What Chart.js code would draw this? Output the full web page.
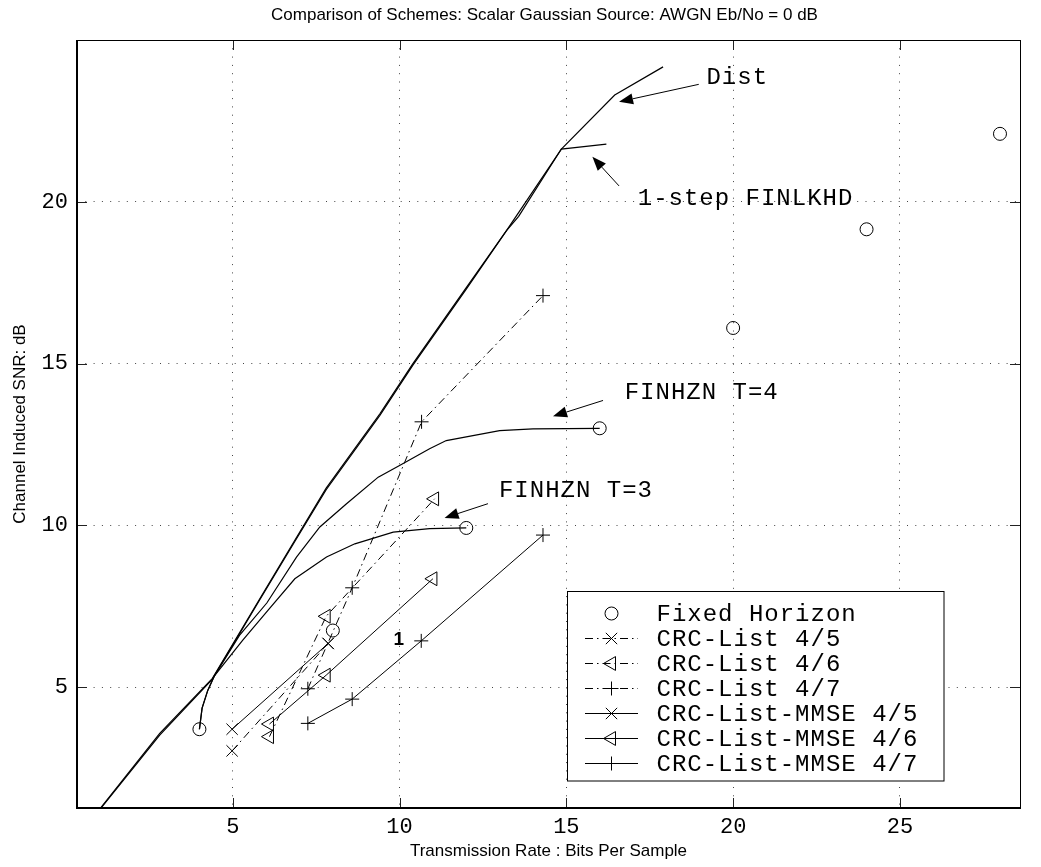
<!DOCTYPE html>
<html>
<head>
<meta charset="utf-8">
<title>Comparison of Schemes</title>
<script src="https://cdn.jsdelivr.net/npm/chart.js"></script>
<style>
  html, body { margin: 0; padding: 0; background: #fff; }
  #wrap { width: 1041px; height: 867px; }
</style>
</head>
<body>
<div id="wrap"><canvas id="snrChart" width="1041" height="867"></canvas></div>
<script>
// axis ticks
const xTicks = [5, 10, 15, 20, 25];
const yTicks = [5, 10, 15, 20];

// fixed horizon end points (rate, SNR)
const fixedRate = [4, 8, 12, 16, 20, 24, 28];
const fixedSnr = [3.7, 6.75, 9.92, 13.0, 16.1, 19.15, 22.1];

// distortion bound
const distRate = [1.04, 2.81, 4.39, 5.81, 6.86, 7.8, 9.41, 10.4, 12.0, 13.2, 14.85, 16.45, 17.9];
const distSnr = [1.27, 3.57, 5.27, 7.73, 9.54, 11.15, 13.45, 15.0, 17.35, 19.1, 21.63, 23.3, 24.17];

// one step finite lookahead
const lkhdRate = [1.04, 2.81, 4.39, 5.81, 6.86, 7.8, 9.41, 10.4, 12.0, 13.2, 13.57, 14.85, 16.2];
const lkhdSnr = [1.25, 3.52, 5.25, 7.7, 9.5, 11.1, 13.4, 14.95, 17.3, 19.1, 19.55, 21.63, 21.78];

// finite horizon T=4 and T=3
const t4Rate = [4, 4.08, 4.25, 4.45, 5.2, 6.02, 6.91, 7.61, 8.41, 9.36, 10.0, 10.9, 11.4, 13.0, 14.0, 16];
const t4Snr = [3.7, 4.35, 4.9, 5.35, 6.6, 7.6, 9.02, 9.95, 10.67, 11.49, 11.85, 12.37, 12.62, 12.93, 12.98, 13.0];
const t3Rate = [4, 4.08, 4.25, 4.45, 5.3, 6.06, 6.86, 7.81, 8.66, 9.81, 10.9, 12];
const t3Snr = [3.7, 4.35, 4.9, 5.35, 6.45, 7.38, 8.35, 9.02, 9.43, 9.79, 9.9, 9.92];

// CRC list decoding
const crc45Rate = [4.98, 7.86];
const crc45Snr = [3.03, 6.35];
const crc46Rate = [6.1, 7.8, 11.05];
const crc46Snr = [3.47, 7.19, 10.82];
const crc47Rate = [7.25, 8.58, 10.66, 14.3];
const crc47Snr = [4.95, 8.07, 13.2, 17.1];

// CRC list decoding with MMSE
const mmse45Rate = [4.98, 7.86];
const mmse45Snr = [3.7, 6.35];
const mmse46Rate = [6.1, 7.8, 11.0];
const mmse46Snr = [3.86, 5.37, 8.35];
const mmse47Rate = [7.25, 8.58, 10.65, 14.3];
const mmse47Snr = [3.88, 4.63, 6.43, 9.7];

const pts = (xs, ys) => xs.map((v, i) => ({ x: v, y: ys[i] }));

const MONO = '"Liberation Mono", "DejaVu Sans Mono", monospace';
const SANS = '"Liberation Sans", Arial, sans-serif';
const DASHDOT = [8, 4, 1.5, 4];

function curve(data) {
  return { data, borderColor: '#000', borderWidth: 1.2, pointRadius: 0, tension: 0, fill: false, inLegend: false };
}
function marked(label, data, style, dash, rotation) {
  return {
    label, data, borderColor: '#000', borderWidth: 1, borderDash: dash || [],
    pointStyle: style, pointRotation: rotation || 0,
    pointRadius: style === 'circle' ? 6.5 : (style === 'cross' ? 7 : 8),
    pointBorderWidth: 1, pointBackgroundColor: 'rgba(0,0,0,0)', pointBorderColor: '#000',
    tension: 0, fill: false, inLegend: true
  };
}

const fixedSet = marked('Fixed Horizon', pts(fixedRate, fixedSnr), 'circle');
fixedSet.showLine = false;

const datasets = [
  curve(pts(distRate, distSnr)),
  curve(pts(lkhdRate, lkhdSnr)),
  curve(pts(t4Rate, t4Snr)),
  curve(pts(t3Rate, t3Snr)),
  fixedSet,
  marked('CRC-List 4/5', pts(crc45Rate, crc45Snr), 'crossRot', DASHDOT),
  marked('CRC-List 4/6', pts(crc46Rate, crc46Snr), 'triangle', DASHDOT, -90),
  marked('CRC-List 4/7', pts(crc47Rate, crc47Snr), 'cross', DASHDOT),
  marked('CRC-List-MMSE 4/5', pts(mmse45Rate, mmse45Snr), 'crossRot'),
  marked('CRC-List-MMSE 4/6', pts(mmse46Rate, mmse46Snr), 'triangle', null, -90),
  marked('CRC-List-MMSE 4/7', pts(mmse47Rate, mmse47Snr), 'cross')
];

// text labels with arrows, in data units
const notes = [
  { text: 'Dist', x: 19.2, y: 23.84, from: [18.97, 23.63], to: [16.58, 23.09] },
  { text: '1-step FINLKHD', x: 17.14, y: 20.1, from: [16.58, 20.49], to: [15.78, 21.39] },
  { text: 'FINHZN T=4', x: 16.75, y: 14.11, from: [16.1, 13.86], to: [14.6, 13.37] },
  { text: 'FINHZN T=3', x: 12.98, y: 11.08, from: [12.65, 10.67], to: [11.35, 10.23] }
];

function arrow(ctx, x0, y0, x1, y1) {
  const ang = Math.atan2(y1 - y0, x1 - x0);
  const len = 14, half = 5.5;
  const bx = x1 - len * Math.cos(ang), by = y1 - len * Math.sin(ang);
  ctx.beginPath();
  ctx.moveTo(x0, y0);
  ctx.lineTo(bx, by);
  ctx.stroke();
  ctx.beginPath();
  ctx.moveTo(x1, y1);
  ctx.lineTo(bx + half * Math.sin(ang), by - half * Math.cos(ang));
  ctx.lineTo(bx - half * Math.sin(ang), by + half * Math.cos(ang));
  ctx.closePath();
  ctx.fill();
}

const decorations = {
  id: 'decorations',
  afterDatasetsDraw(chart) {
    const { ctx, chartArea: a, scales: { x, y } } = chart;
    ctx.save();

    // inward tick marks on all four sides
    ctx.strokeStyle = '#222';
    ctx.lineWidth = 1;
    ctx.beginPath();
    xTicks.forEach(v => {
      const px = Math.round(x.getPixelForValue(v)) + 0.5;
      ctx.moveTo(px, a.bottom); ctx.lineTo(px, a.bottom - 10);
      ctx.moveTo(px, a.top); ctx.lineTo(px, a.top + 10);
    });
    yTicks.forEach(v => {
      const py = Math.round(y.getPixelForValue(v)) + 0.5;
      ctx.moveTo(a.left, py); ctx.lineTo(a.left + 10, py);
      ctx.moveTo(a.right, py); ctx.lineTo(a.right - 10, py);
    });
    ctx.stroke();

    // axes box
    ctx.strokeStyle = '#000';
    ctx.lineWidth = 1;
    ctx.strokeRect(a.left + 0.5, a.top + 0.5, a.right - a.left, a.bottom - a.top);
    ctx.lineWidth = 2;
    ctx.beginPath();
    ctx.moveTo(a.left, a.top); ctx.lineTo(a.left, a.bottom); ctx.lineTo(a.right + 1, a.bottom);
    ctx.stroke();

    // tick labels
    ctx.fillStyle = '#000';
    ctx.font = '22px ' + MONO;
    ctx.textBaseline = 'middle';
    ctx.textAlign = 'center';
    xTicks.forEach(v => ctx.fillText(String(v), x.getPixelForValue(v), a.bottom + 19));
    ctx.textAlign = 'right';
    yTicks.forEach(v => ctx.fillText(String(v), a.left - 9, y.getPixelForValue(v)));

    // titles
    ctx.textAlign = 'center';
    ctx.font = '17px ' + SANS;
    ctx.fillText('Comparison of Schemes: Scalar Gaussian Source: AWGN Eb/No = 0 dB', (a.left + a.right) / 2 - 4, 15);
    ctx.fillText('Transmission Rate : Bits Per Sample', (a.left + a.right) / 2, a.bottom + 43);
    ctx.save();
    ctx.translate(20, (a.top + a.bottom) / 2);
    ctx.rotate(-Math.PI / 2);
    ctx.fillText('Channel Induced SNR: dB', 0, 0);
    ctx.restore();

    // curve labels and arrows
    ctx.font = '24px ' + MONO;
    ctx.letterSpacing = '1px';
    ctx.textAlign = 'left';
    ctx.lineWidth = 1;
    ctx.strokeStyle = '#000';
    notes.forEach(n => {
      ctx.fillText(n.text, x.getPixelForValue(n.x), y.getPixelForValue(n.y));
      arrow(ctx, x.getPixelForValue(n.from[0]), y.getPixelForValue(n.from[1]),
        x.getPixelForValue(n.to[0]), y.getPixelForValue(n.to[1]));
    });
    ctx.letterSpacing = '0px';
    ctx.font = 'bold 19px ' + SANS;
    ctx.textAlign = 'center';
    ctx.fillText('1', x.getPixelForValue(9.98), y.getPixelForValue(6.45));

    // legend box
    const lx = 567.5, ly = 591.5, lw = 376.5, lh = 189.5;
    ctx.fillStyle = '#fff';
    ctx.fillRect(lx, ly, lw, lh);
    ctx.strokeStyle = '#000';
    ctx.lineWidth = 1;
    ctx.strokeRect(lx, ly, lw, lh);
    ctx.font = '24px ' + MONO;
    ctx.letterSpacing = '1px';
    ctx.textAlign = 'left';
    let row = 0;
    chart.data.datasets.forEach(ds => {
      if (!ds.inLegend) return;
      const cy = 613.5 + row * 25;
      ctx.strokeStyle = '#000';
      ctx.lineWidth = 1;
      if (ds.showLine !== false) {
        ctx.save();
        ctx.setLineDash(ds.borderDash);
        ctx.beginPath();
        ctx.moveTo(585, cy); ctx.lineTo(638, cy);
        ctx.stroke();
        ctx.restore();
      }
      ctx.fillStyle = 'rgba(0,0,0,0)';
      Chart.helpers.drawPoint(ctx, {
        pointStyle: ds.pointStyle, rotation: ds.pointRotation,
        radius: ds.pointRadius, borderWidth: 1
      }, 611.5, cy);
      ctx.fillStyle = '#000';
      ctx.fillText(ds.label, 656.5, cy + 1);
      row++;
    });
    ctx.restore();
  }
};

new Chart(document.getElementById('snrChart'), {
  type: 'line',
  data: { datasets },
  plugins: [decorations],
  options: {
    responsive: false,
    animation: false,
    devicePixelRatio: 1,
    layout: { padding: { top: 40, right: 21, left: 0, bottom: 0 } },
    plugins: { legend: { display: false }, title: { display: false }, tooltip: { enabled: false } },
    scales: {
      x: {
        type: 'linear', min: 0.33, max: 28.6,
        afterBuildTicks: s => { s.ticks = xTicks.map(v => ({ value: v })); },
        afterFit: s => { s.height = 59; },
        ticks: { display: false },
        grid: { color: '#444', lineWidth: 1, drawTicks: false },
        border: { display: false, dash: [1, 7.3] }
      },
      y: {
        type: 'linear', min: 1.265, max: 25,
        afterBuildTicks: s => { s.ticks = yTicks.map(v => ({ value: v })); },
        afterFit: s => { s.width = 77; },
        ticks: { display: false },
        grid: { color: '#444', lineWidth: 1, drawTicks: false },
        border: { display: false, dash: [1, 7.3] }
      }
    }
  }
});
</script>
</body>
</html>
